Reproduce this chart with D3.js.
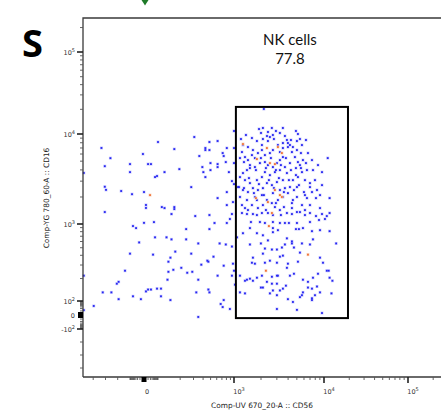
<!DOCTYPE html>
<html>
<head>
<meta charset="utf-8">
<script src="https://cdn.jsdelivr.net/npm/d3@7"></script>
<style>
  body { margin: 0; background: #fff; }
  text { font-family: "DejaVu Sans", sans-serif; }
</style>
</head>
<body>
<svg id="chart" width="441" height="412"></svg>
<script>
// CD56 (x) / CD16 (y) events, compensated values
const outsideEvents = [
  [-330,7000],[-255,5400],[-305,4400],[-305,2600],[-295,2400],[-305,1360],[-475,3700],[-475,218],[-395,37],[-475,13],
  [-320,131],[-247,131],[-190,106],[-206,171],[-190,181],[-133,253],[-100,420],[-56,942],[-29,888],[-13,584],
  [-100,4640],[-100,3780],[-165,2330],[-68,2150],[-2,6000],[10,4640],[23,4640],[100,8150],[83,3420],[56,3330],
  [123,3780],[167,6810],[195,4080],[0,2270],[4,1630],[4,1510],[0,1030],[45,1050],[113,1545],[123,1506],
  [167,1545],[167,1468],[153,1292],[56,678],[131,678],[153,639],[37,408],[148,373],[139,331],[172,446],
  [207,276],[139,245],[162,260],[248,238],[289,245],[135,193],[110,147],[83,147],[23,143],[10,143],
  [4,135],[110,116],[148,103],[-7,106],[-56,116],[307,9260],[483,8150],[616,8360],[428,6990],[428,6640],
  [483,6640],[357,5700],[716,6150],[738,5700],[809,6990],[1000,6990],[1000,10880],[785,4885],[498,4760],[616,4640],
  [616,4300],[498,3980],[391,4300],[403,3780],[428,3330],[860,3780],[1000,4760],[941,3005],[1000,2783],[280,2577],
  [809,2268],[616,1945],[809,1626],[970,1756],[941,1292],[886,1137],[809,1026],[483,1259],[483,862],[562,1026],
  [316,1227],[240,862],[240,639],[346,567],[654,567],[785,550],[941,518],[545,384],[454,341],[468,331],
  [280,420],[379,303],[738,294],[970,312],[1000,253],[616,218],[941,218],[346,193],[326,131],[468,143],
  [483,131],[738,103],[675,56],[716,29],[886,18],[346,-4],[1026,166]
];

const gateEventsUpper = [
  [2150,20200],[1900,11500],[2100,11840],[2390,10580],[2640,11840],[2930,10880],[3500,11840],[2710,9750],[2510,9260],[3240,10290],
  [2000,10290],[2330,9500],[2100,8800],[5140,10000],[5410,8800],[5010,8360],[4190,7550],[3980,7940],[4520,7170],[5010,6640],
  [4410,6310],[5550,6150],[4760,5550],[6640,6150],[5840,5140],[5140,4885],[5410,4520],[4885,4190],[5700,3780],[6470,3980],
  [7550,3980],[9500,3780],[11080,5410],[7940,3080],[6990,2855],[8360,2390],[7360,2270],[9030,2100],[11660,1945],[6150,2100],
  [6470,1945],[5010,2000],[4520,1850],[5700,1626],[6150,1430],[5010,1360],[4410,1506],[3240,1431],[2855,1545],
  [2640,1711],[2100,1626],[1800,1848],[1585,1626],[1326,1506],
  [1259,7550],[1431,7170],[1227,6310],[1326,5550],[1431,5140],[1585,5840],[1711,5410],[1848,6150],[1626,6640],[2047,6640],
  [2210,5840],[2512,6150],[2712,6640],[3244,6310],[3503,6990],[3082,7550],[3503,7940],[3880,8580],[3981,7170],[3503,5550],
  [3244,5140],[3005,4760],[2712,4300],[2387,4520],[2210,4885],[1945,4760],[1711,4300],[1506,4520],[1395,3980],[1259,3690],
  [1166,3330],[1326,3080],[1506,2855],[1801,3080],[2047,3330],[2210,3780],[2512,3500],[2855,3780],[3244,3980],[3687,4300],
  [4190,4760],[3880,3690],[3503,3080],[3005,2930],[2644,2710],[2326,2855],[2100,2510],[1848,2390],[1626,2510],[1431,2270],
  [1259,2390],[1108,2580],[1166,2000],[1395,1850],[1711,2000],[2047,2100],[2326,1850],[2712,2210],[3244,2390],[3687,2510],
  [4190,2580],[3981,2210],[3503,2000],[3082,1850],[4524,3080],[5142,3330],[6150,3080],[5012,2580],
  [1196,8799],[1359,9747],[1585,9027],[1801,8360],[2047,7547],[2387,8360],[2783,8799],[3687,9501],[4299,8577],[4885,10880],
  [5696,7547],[6310,8577],[1166,5412],[1292,4885],[1506,4190],[1756,3981],[1995,5412],[2268,4190],[2577,5412],[2929,3981],
  [3328,4524],[3782,5412],[4299,3981],[4885,3503],[5552,4190],[6310,4762],[7356,5142],[8577,4524],
  [1137,2577],[1292,2512],[1468,3244],[1668,2210],[1896,2783],[2154,2100],[2448,3082],[2783,2512],[3162,3244],[3594,2268],
  [4084,3082],[4642,2387],[5275,2712],[5995,2268],[6990,2577],[8149,1945],[9501,2712],
  [1227,1626],[1431,1431],[1848,1506],[2268,1431],[2929,1711],[3594,1545],[4410,1711],[6990,1626],[9027,1506],[11660,1326]
];

const gateEventsLower = [
  [1227,1326],[1395,1292],[1626,1292],[1801,1259],[2047,1326],[2387,1326],[2712,1259],[3328,1259],[3880,1326],[4410,1292],
  [5412,1359],[6150,1259],[6990,1326],[8149,1227],[9501,1292],[10800,1227],
  [1545,1052],[1945,1052],[2210,1026],[2712,1052],[3244,1026],[3687,1026],[4084,1026],[5012,1026],[6990,1052],[8799,1108],[10260,1137],
  [1080,678],[1259,765],[1506,888],[1801,765],[2100,720],[2712,788],[2712,888],[3082,836],[3880,658],[4885,862],[5275,862],
  [5843,888],[7356,812],[9027,836],[11660,812],[13950,567],
  [2387,620],[1995,567],[1506,550],[2210,488],[2100,420],[2644,474],[3005,474],[3415,503],[3687,550],[4410,602],[4410,567],
  [4642,503],[5696,567],[5412,433],[6990,550],[7547,639],[9027,373],[9747,321],
  [1626,373],[1585,321],[1711,312],[2210,321],[2512,341],[3005,321],[3244,384],[3503,396],[3981,312],[5142,331],[3880,276],[4642,231],
  [1166,218],[1326,187],[1395,193],[1506,199],[1626,187],[1801,205],[2047,218],[2326,181],[2644,211],[3005,218],[3082,218],
  [4190,218],[5843,193],[6641,181],[7547,205],[8577,231],[10800,253],[11370,253],[11660,205],[12590,187],
  [1995,152],[2100,152],[2644,171],[3005,171],[2712,139],[3244,139],[3503,147],[3782,161],[2512,127],[3005,120],[5696,120],
  [6641,152],[7356,147],[8360,157],[9027,131],[7943,120],[12270,127],[1326,127],[1166,131],
  [3981,106],[4524,83],[5412,113],[7356,103],[3005,18],[5012,14],[9501,4],[7356,109],[5843,131]
];

// events shown in orange (overlay population)
const orangeEvents = [
  [18,2100],[1259,7740],[2326,6990],[3082,7170],[3415,6150],[1801,5275],[2512,4760],[2855,4640],[2855,2390],
  [3244,2100],[3415,2000],[2387,1756],[1756,1945],[2644,1326],[6641,408],[2268,253],[2448,942]
];

const gateX = [1050, 19300];
const gateY = [-7, 21400];
const gateName = 'NK cells';
const gatePercent = '77.8';

const xMajorTicks = [0, 1000, 10000, 100000];
const xMajorExp = ['', '3', '4', '5'];
const yMajorTicks = [-100, 0, 100, 1000, 10000, 100000];
const yMajorExp = ['2', '', '2', '3', '4', '5'];
const xTitle = 'Comp-UV 670_20-A :: CD56';
const yTitle = 'Comp-YG 780_60-A :: CD16';
const panelLetter = 'S';

// minor ticks: near-zero linear steps, negative hundreds, log decades
const nearZero = d3.range(-90, 100, 10).filter(v => v !== 0);
const logMinor = [];
[100, 1000, 10000, 100000].forEach(dec => {
  d3.range(2, 10).forEach(k => { if (k * dec <= 262144) logMinor.push(k * dec); });
});
const xMinorTicks = [-400, -300, -200, -100, 100, ...nearZero, ...logMinor];
const yMinorTicks = [-400, -300, -200, ...nearZero, ...logMinor];

// biexponential-like display: piecewise scale in a log-ish transform
const tf = v => Math.sign(v) * Math.log10(1 + Math.abs(v) / 10);
const anchorVals = [-500, -400, -300, -200, -100, 0, 100, 1000, 10000, 100000, 262144];
const xScale = d3.scaleLinear()
  .domain(anchorVals.map(tf))
  .range([81, 93.2, 105.5, 117.7, 130, 144, 158, 234, 324, 408, 443]);
const yScale = d3.scaleLinear()
  .domain(anchorVals.map(tf))
  .range([381, 368, 355, 342, 329, 315, 301, 224, 134, 52, 18]);
const x = v => xScale(tf(v));
const y = v => yScale(tf(v));

const plotLeft = 83, plotTop = 18, plotBottom = 377, plotRight = 443;
const axisColor = '#3a3a3a';

const svg = d3.select('#chart');

// panel letter
svg.append('text')
  .attr('x', 22).attr('y', 57)
  .style('font-family', '"Open Sans", sans-serif')
  .style('font-weight', 700)
  .style('font-size', '38px')
  .attr('fill', '#000')
  .text(panelLetter);

// green marker from neighbouring panel
svg.append('path')
  .attr('d', 'M141.5,0 L148.5,0 L145,5.5 Z')
  .attr('fill', '#1e7a28');

// events
function drawEvents(data, halo, core) {
  const g = svg.append('g');
  g.selectAll('rect.halo')
    .data(data)
    .join('rect')
    .attr('class', 'halo')
    .attr('x', d => x(d[0]) - 1.5)
    .attr('y', d => y(d[1]) - 1.5)
    .attr('width', 3).attr('height', 3)
    .attr('fill', halo);
  g.selectAll('rect.core')
    .data(data)
    .join('rect')
    .attr('class', 'core')
    .attr('x', d => x(d[0]) - 0.9)
    .attr('y', d => y(d[1]) - 0.9)
    .attr('width', 1.8).attr('height', 1.8)
    .attr('fill', core);
}
const blueEvents = [...outsideEvents, ...gateEventsUpper, ...gateEventsLower];
drawEvents(blueEvents, '#c8c8ff', '#2626f0');
drawEvents(orangeEvents, '#fad6c2', '#ef7236');

// frame
svg.append('path')
  .attr('d', `M${plotLeft},${plotBottom} L${plotLeft},${plotTop} L${plotRight},${plotTop} M${plotLeft},${plotBottom} L${plotRight},${plotBottom}`)
  .attr('fill', 'none')
  .attr('stroke', axisColor)
  .attr('stroke-width', 1.3);

// y ticks
svg.append('g').selectAll('line')
  .data(yMinorTicks)
  .join('line')
  .attr('x1', plotLeft - 3).attr('x2', plotLeft)
  .attr('y1', d => y(d)).attr('y2', d => y(d))
  .attr('stroke', '#555').attr('stroke-width', 0.9);
svg.append('g').selectAll('line')
  .data(yMajorTicks.filter(d => d !== 0))
  .join('line')
  .attr('x1', plotLeft - 6).attr('x2', plotLeft)
  .attr('y1', d => y(d)).attr('y2', d => y(d))
  .attr('stroke', '#222').attr('stroke-width', 1.6);
svg.append('rect')
  .attr('x', plotLeft - 5).attr('y', y(0) - 3)
  .attr('width', 5).attr('height', 6)
  .attr('fill', '#000');

const yLab = svg.append('g').selectAll('text')
  .data(yMajorTicks)
  .join('text')
  .attr('x', plotLeft - 8)
  .attr('y', d => y(d) + 2.5)
  .attr('text-anchor', 'end')
  .style('font-size', '6.5px')
  .attr('fill', '#333');
yLab.append('tspan').text(d => d === 0 ? '0' : (d < 0 ? '-10' : '10'));
yLab.append('tspan')
  .attr('dy', -3)
  .style('font-size', '5px')
  .text((d, i) => yMajorExp[i]);

// x ticks
svg.append('g').selectAll('line')
  .data(xMinorTicks)
  .join('line')
  .attr('x1', d => x(d)).attr('x2', d => x(d))
  .attr('y1', plotBottom).attr('y2', plotBottom + 3)
  .attr('stroke', '#555').attr('stroke-width', 0.9);
svg.append('g').selectAll('line')
  .data(xMajorTicks.filter(d => d !== 0))
  .join('line')
  .attr('x1', d => x(d)).attr('x2', d => x(d))
  .attr('y1', plotBottom).attr('y2', plotBottom + 6)
  .attr('stroke', '#222').attr('stroke-width', 1.6);
svg.append('rect')
  .attr('x', x(0) - 2.5).attr('y', plotBottom)
  .attr('width', 5).attr('height', 5)
  .attr('fill', '#000');

const xLab = svg.append('g').selectAll('text')
  .data(xMajorTicks)
  .join('text')
  .attr('x', d => x(d) + (d === 0 ? 3 : 5))
  .attr('y', plotBottom + 17)
  .attr('text-anchor', 'middle')
  .style('font-size', '6.5px')
  .attr('fill', '#333');
xLab.append('tspan').text(d => d === 0 ? '0' : '10');
xLab.append('tspan')
  .attr('dy', -3)
  .style('font-size', '5px')
  .text((d, i) => xMajorExp[i]);

// axis titles
svg.append('text')
  .attr('x', 262).attr('y', 408)
  .attr('text-anchor', 'middle')
  .style('font-size', '7.4px')
  .attr('fill', '#222')
  .text(xTitle);
svg.append('text')
  .attr('transform', 'translate(49,198) rotate(-90)')
  .attr('text-anchor', 'middle')
  .style('font-size', '7.4px')
  .attr('fill', '#222')
  .text(yTitle);

// gate
svg.append('rect')
  .attr('x', x(gateX[0]))
  .attr('y', y(gateY[1]))
  .attr('width', x(gateX[1]) - x(gateX[0]))
  .attr('height', y(gateY[0]) - y(gateY[1]))
  .attr('fill', 'none')
  .attr('stroke', '#000')
  .attr('stroke-width', 2);

svg.append('text')
  .attr('x', 290).attr('y', 45)
  .attr('text-anchor', 'middle')
  .style('font-family', 'Lato, sans-serif')
  .style('font-size', '15px')
  .attr('fill', '#111')
  .text(gateName);
svg.append('text')
  .attr('x', 290).attr('y', 64)
  .attr('text-anchor', 'middle')
  .style('font-family', 'Lato, sans-serif')
  .style('font-size', '15px')
  .attr('fill', '#111')
  .text(gatePercent);
</script>
</body>
</html>
